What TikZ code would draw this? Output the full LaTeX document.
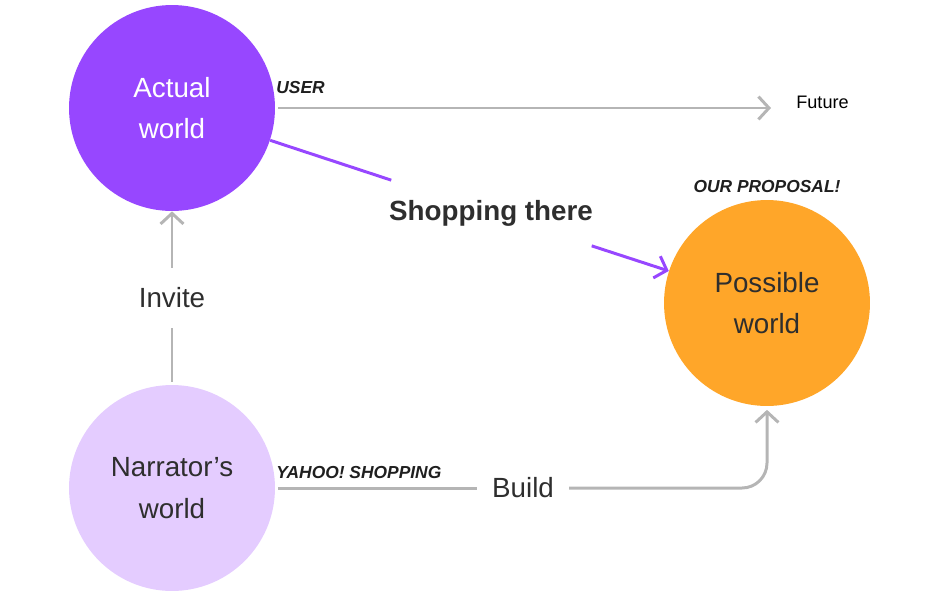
\documentclass[tikz,border=0pt]{standalone}
\usepackage{fontspec}
\setmainfont{Liberation Sans}
\usepackage{tikz}
\usetikzlibrary{arrows.meta}
\usetikzlibrary{positioning}

\definecolor{worldpurple}{HTML}{9747FF}
\definecolor{worldorange}{HTML}{FFA629}
\definecolor{worldlilac}{HTML}{E4CCFF}
\definecolor{linegray}{HTML}{B5B5B5}
\definecolor{textgray}{HTML}{2E2E2E}

\begin{document}
\begin{tikzpicture}[x=0.02cm,y=-0.02cm,
	world_node/.style={circle,minimum size=4.12cm,inner sep=0pt,align=center,text=textgray,font=\fontsize{15.8}{23.8}\selectfont},
	label_node/.style={inner xsep=0.3cm,inner ysep=0.39cm,text=textgray,font=\fontsize{15.8}{18}\selectfont},
	tag_node/.style={inner sep=0pt,text=black!88,font=\fontsize{9.9}{11}\selectfont\bfseries\itshape},
	gray_line/.style={draw=linegray,line width=1.7pt},
	purple_line/.style={draw=worldpurple,line width=1.7pt},
	chevron/.style={-{Straight Barb[length=6pt,width=13pt]}}]
	\useasboundingbox (0,0) rectangle (940,596);
	% the three worlds
	\node[world_node,fill=worldpurple,text=white](actual) at (172,108){Actual\\world};
	\node[world_node,fill=worldorange](possible) at (767,303){Possible\\world};
	\node[world_node,fill=worldlilac](narrator) at (172,488){Narrator’s\\world};
	% labels on the connectors
	\node[label_node,font=\fontsize{15.8}{18}\selectfont\bfseries](shop) at (491,213){Shopping there};
	\node[label_node](invite) at (172,298){Invite};
	\node[label_node](build) at (523,488){Build};
	% small tags
	\node[tag_node,anchor=west](user) at (276,88){USER};
	\node[tag_node,anchor=west](yahoo) at (276,473){YAHOO! SHOPPING};
	\node[tag_node](proposal) at (767,187){OUR PROPOSAL!};
	\node[anchor=west,inner sep=0pt,text=black,font=\fontsize{10.3}{12}\selectfont](future) at (796,102){Future};
	\coordinate (future_end) at (771,108);
	% connectors
	\draw[gray_line,chevron,shorten <=1.7pt] (actual) -- (future_end);
	\draw[purple_line] (actual) -- (shop);
	\draw[purple_line,chevron] (shop) -- (possible);
	\draw[gray_line,shorten <=1.7pt] (narrator) -- (invite);
	\draw[gray_line,chevron] (invite) -- (actual);
	\draw[gray_line,shorten <=1.7pt] (narrator) -- (build);
	\draw[gray_line,chevron,rounded corners=0.5cm,shorten >=2pt] (build) -| (possible);
\end{tikzpicture}
\end{document}
